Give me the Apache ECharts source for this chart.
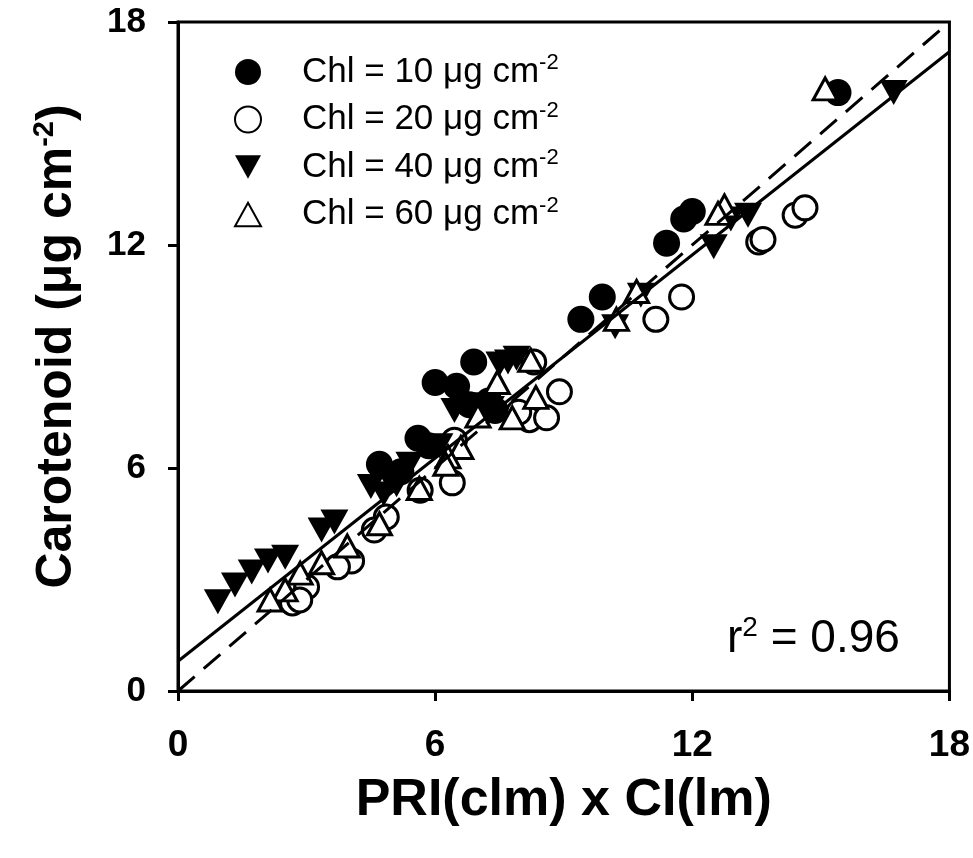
<!DOCTYPE html>
<html>
<head>
<meta charset="utf-8">
<script src="https://cdn.jsdelivr.net/npm/echarts@6/dist/echarts.min.js"></script>
<style>html,body{margin:0;padding:0;background:#fff}#c{width:973px;height:858px}</style>
</head>
<body>
<div id="c"></div>
<script>
// ---- data ----
const chl10 = [[6.0,8.3],[6.5,8.2],[6.9,8.85],[7.25,7.8],[7.4,7.55],[6.8,7.7],[5.6,6.8],[5.85,6.6],[4.7,6.1],[5.2,5.9],[9.4,10.0],[9.9,10.6],[11.4,12.05],[11.8,12.7],[12.0,12.9],[15.4,16.1]];
const chl20 = [[14.4,12.8],[14.63,13.0],[13.55,12.08],[13.65,12.15],[11.75,10.6],[11.15,10.0],[8.9,8.05],[8.2,7.3],[8.6,7.35],[8.3,8.85],[7.95,7.5],[6.4,5.6],[6.45,6.75],[5.65,5.4],[4.86,4.68],[4.58,4.33],[4.05,3.5],[3.72,3.34],[3.0,2.8],[2.67,2.37],[2.84,2.45]];
const chl40 = [[16.7,16.1],[12.5,11.95],[12.9,12.7],[13.3,12.8],[10.8,10.65],[10.2,9.8],[7.7,8.85],[7.5,8.8],[7.9,8.95],[7.1,7.7],[7.3,7.6],[6.45,7.55],[6.1,6.6],[5.4,6.1],[4.5,5.5],[4.93,5.7],[5.1,5.55],[4.8,5.3],[3.35,4.33],[3.65,4.55],[2.5,3.6],[2.1,3.5],[1.72,3.2],[1.33,2.85],[0.93,2.4]];
const chl60 = [[15.1,16.2],[12.75,13.05],[12.6,12.85],[10.7,10.75],[10.23,10.0],[7.45,8.3],[8.23,8.9],[8.35,7.9],[7.8,7.35],[7.0,7.4],[6.6,6.55],[6.3,6.3],[6.25,6.1],[5.63,5.45],[4.7,4.5],[3.95,3.9],[3.35,3.45],[2.85,3.17],[2.5,2.72],[2.15,2.45]];
const regressionLine = [[0,0.8],[18,17.2]];
const oneToOneLine = [[0,0],[18,18]];
const seriesNames = ['Chl = 10 \u03bcg cm{sup|-2}','Chl = 20 \u03bcg cm{sup|-2}','Chl = 40 \u03bcg cm{sup|-2}','Chl = 60 \u03bcg cm{sup|-2}'];
const xTicks = [0,6,12,18];
const yTicks = [0,6,12,18];

const FONT = '"Liberation Sans", Arial, sans-serif';
const triDown = 'path://M0,0 L10,0 L5,9 Z';
const triUp = 'path://M5,0 L10,9 L0,9 Z';

const chart = echarts.init(document.getElementById('c'));
const axisCommon = {
  min: 0, max: 18, interval: 6,
  splitLine: {show:false},
  axisLine: {show:true, lineStyle:{color:'#000', width:3}},
  axisTick: {show:true, inside:false, length:10, lineStyle:{color:'#000', width:3}},
};
chart.setOption({
  animation: false,
  backgroundColor: '#fff',
  grid: {left:178, right:21, top:22, bottom:167, show:true, borderColor:'#000', borderWidth:3, backgroundColor:'transparent'},
  xAxis: Object.assign({}, axisCommon, {
    type:'value',
    axisLabel: {margin:36, fontFamily:FONT, fontWeight:'bold', fontSize:37, color:'#000',
      formatter: v => xTicks.includes(v) ? String(v) : ''},
    name: 'PRI(clm) x CI(lm)', nameLocation:'middle', nameGap:84,
    nameTextStyle: {fontFamily:FONT, fontWeight:'bold', fontSize:52, color:'#000'}
  }),
  yAxis: Object.assign({}, axisCommon, {
    type:'value',
    axisLabel: {margin:32, fontFamily:FONT, fontWeight:'bold', fontSize:35, color:'#000',
      formatter: v => yTicks.includes(v) ? String(v) : ''},
    name: 'Carotenoid (\u03bcg cm{sup|-2})', nameLocation:'middle', nameGap:94, nameRotate:90,
    nameTextStyle: {fontFamily:FONT, fontWeight:'bold', fontSize:50, color:'#000', padding:[0,0,0,20],
      rich: {sup:{fontFamily:FONT, fontWeight:'bold', fontSize:29, color:'#000', padding:[0,0,25,0]}}}
  }),
  legend: {
    orient:'vertical', left:229, top:47, itemWidth:26, itemHeight:26, itemGap:10,
    data: seriesNames,
    textStyle: {fontFamily:FONT, fontSize:35, color:'#000', padding:[0,0,0,36],
      rich: {sup:{fontFamily:FONT, fontSize:22, color:'#000', padding:[0,0,18,0]}}}
  },
  graphic: [{
    type:'text', left:727, top:614,
    style: {text:'r{sup|2} = 0.96', fill:'#000', fontFamily:FONT, fontSize:46,
      rich:{sup:{fontFamily:FONT, fontSize:28, fill:'#000', padding:[0,0,22,0]}}}
  }],
  series: [
    {name:seriesNames[0], type:'scatter', data:chl10, symbol:'circle', symbolSize:27,
      itemStyle:{color:'#000', opacity:1}, z:2},
    {name:seriesNames[1], type:'scatter', data:chl20, symbol:'circle', symbolSize:24,
      itemStyle:{color:'#fff', borderColor:'#000', borderWidth:3, opacity:1}, z:3},
    {name:seriesNames[2], type:'scatter', data:chl40, symbol:triDown, symbolSize:[28,25],
      itemStyle:{color:'#000', opacity:1}, z:4},
    {name:seriesNames[3], type:'scatter', data:chl60, symbol:triUp, symbolSize:[24,22],
      itemStyle:{color:'#fff', borderColor:'#000', borderWidth:3, opacity:1}, z:5},
    {type:'line', data:regressionLine, symbol:'none', silent:true,
      lineStyle:{color:'#000', width:3, type:'solid'}, z:6},
    {type:'line', data:oneToOneLine, symbol:'none', silent:true,
      lineStyle:{color:'#000', width:3, type:[22,12]}, z:6}
  ]
});
</script>
</body>
</html>
